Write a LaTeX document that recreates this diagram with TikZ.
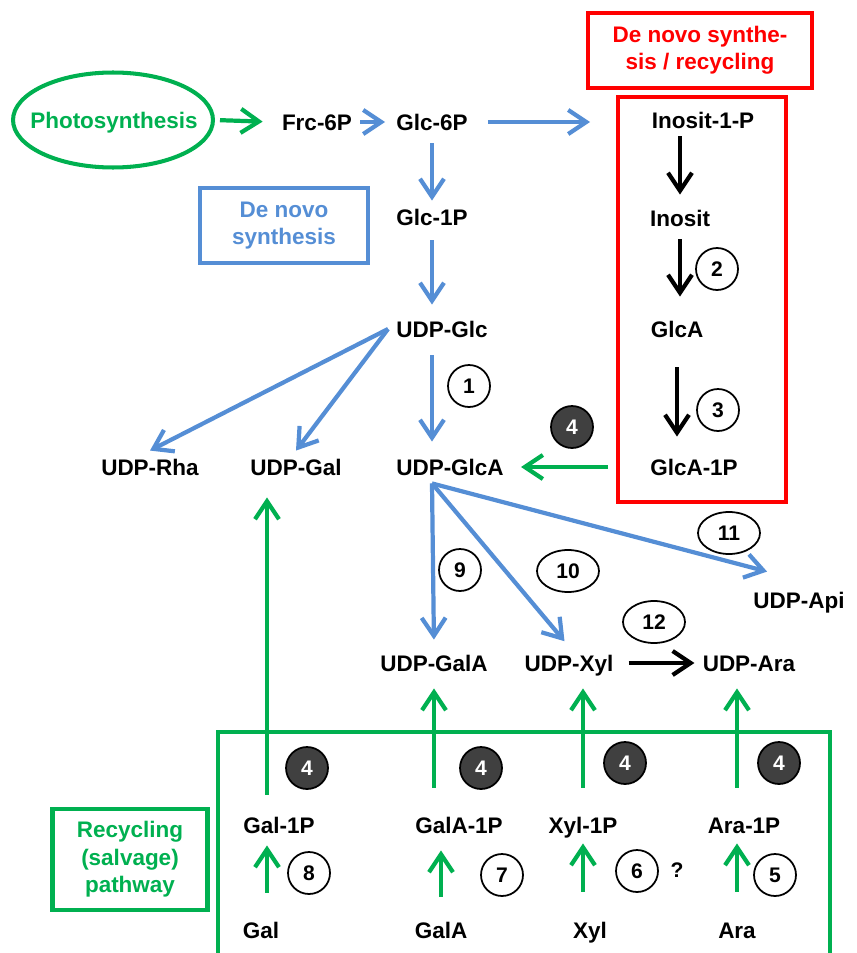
\documentclass[tikz,border=0pt]{standalone}
\usepackage{fontspec}
\setmainfont{Liberation Sans}
\usetikzlibrary{arrows.meta, positioning, shapes.geometric}
\definecolor{pblue}{RGB}{85,142,213}
\definecolor{pgreen}{RGB}{0,176,80}
\definecolor{pred}{RGB}{255,0,0}
\definecolor{pdark}{RGB}{64,64,64}
\newcommand\metfont{\bfseries\fontsize{12.8}{15.6}\selectfont}
\newcommand\enzfont{\bfseries\fontsize{12}{14}\selectfont}

\begin{document}
\begin{tikzpicture}[
  x=0.02cm, y=-0.02cm,
  met/.style  = {font=\metfont, inner sep=0.16cm,
                 text height=9.2pt, text depth=0pt},
  lbl/.style  = {rectangle, draw=#1, text=#1, line width=2.3pt,
                 align=center, font=\metfont},
  enz/.style  = {circle, draw, line width=1pt, minimum size=0.84cm,
                 inner sep=0pt, font=\enzfont},
  enzo/.style = {ellipse, draw, line width=1pt, minimum width=1.24cm,
                 minimum height=0.84cm, inner sep=0pt, font=\enzfont},
  kin/.style  = {enz, draw=black, fill=pdark, text=white},
  arr/.style  = {-{Straight Barb[length=0.36cm, width=0.48cm]},
                 line width=2.4pt, #1},
]
\useasboundingbox (0,0) rectangle (856,953);
% Photosynthesis and hexose phosphates
\node[met, text=pgreen] (photo) at (114,120) {Photosynthesis};
\node[ellipse, draw=pgreen, line width=2.3pt, minimum width=4cm,
      minimum height=1.9cm, inner sep=0pt] (photoring) at (113,120) {};
\node[met] (frc)   at (317,122) {Frc-6P};
\node[met] (glc6p) at (432,122) {Glc-6P};
\node[met] (glc1p) at (432,217) {Glc-1P};
\node[met] (udpglc)  at (442,329) {UDP-Glc};
\node[met] (udpglca) at (450,467) {UDP-GlcA};
\node[met] (udprha)  at (150,467) {UDP-Rha};
\node[met] (udpgal)  at (296,467) {UDP-Gal};
% Inositol route
\node[met] (inosit1p) at (703,120) {Inosit-1-P};
\node[met] (inosit)   at (680,218) {Inosit};
\node[met] (glca)     at (677,329) {GlcA};
\node[met] (glca1p)   at (694,467) {GlcA-1P};
% Products of UDP-GlcA
\node[met] (udpgala) at (434,663) {UDP-GalA};
\node[met] (udpxyl)  at (569,663) {UDP-Xyl};
\node[met] (udpara)  at (749,663) {UDP-Ara};
\node[met] (udpapi)  at (799,600) {UDP-Api};
% Salvage row
\node[met] (gal1p)  at (279,825) {Gal-1P};
\node[met] (gala1p) at (459,825) {GalA-1P};
\node[met] (xyl1p)  at (583,825) {Xyl-1P};
\node[met] (ara1p)  at (744,825) {Ara-1P};
\node[met] (gal)  at (261,930) {Gal};
\node[met] (gala) at (441,930) {GalA};
\node[met] (xyl)  at (590,930) {Xyl};
\node[met] (ara)  at (737,930) {Ara};
% Labels and frames
\node[lbl=pblue, minimum width=3.36cm, minimum height=1.5cm]
      (denovo) at (284,225.5) {De novo\\synthesis};
\node[lbl=pred, minimum width=4.48cm, minimum height=1.5cm]
      (redtitle) at (700,50.5) {De novo synthe-\\sis / recycling};
\node[draw=pred, line width=2.3pt, minimum width=3.36cm,
      minimum height=8.1cm] (ibox) at (702,299.5) {};
\node[lbl=pgreen, minimum width=3.1cm, minimum height=2.02cm]
      (salvage) at (130,859.5) {Recycling\\(salvage)\\pathway};
\coordinate (framesw) at (218,953);
\coordinate (framese) at (830,953);
\draw[pgreen, line width=2.3pt] (framesw) |- (830,732) -- (framese);
% Enzymes
\node[enz]  (e1)  at (469,386) {1};
\node[enz]  (e2)  at (717,269) {2};
\node[enz]  (e3)  at (718,410) {3};
\node[kin]  (e4a) at (572,427) {4};
\node[enz]  (e9)  at (460,570) {9};
\node[enzo] (e10) at (568,571) {10};
\node[enzo] (e11) at (729,533) {11};
\node[enzo] (e12) at (654,622) {12};
\node[kin]  (e4b) at (307,768) {4};
\node[kin]  (e4c) at (481,768) {4};
\node[kin]  (e4d) at (625,763) {4};
\node[kin]  (e4e) at (779,763) {4};
\node[enz]  (e8)  at (309,873) {8};
\node[enz]  (e7)  at (502,875) {7};
\node[enz]  (e6)  at (637,871) {6};
\node[enz]  (e5)  at (775,875) {5};
\node[font=\enzfont] (unsure) at (677,870) {?};
% Arrows: de novo part
\draw[arr=pgreen, shorten <=0.1cm, shorten >=0.22cm] (photoring.east) -- (frc.west);
\draw[arr=pblue, shorten >=0.06cm] (frc) -- (glc6p);
\draw[arr=pblue, shorten <=0.24cm, shorten >=0.52cm] (glc6p.east) -- (glc6p.east -| ibox.west);
\draw[arr=pblue, shorten <=0.1cm] (glc6p.south) -- (glc1p.north);
\draw[arr=pblue, shorten <=0.14cm, shorten >=0.16cm] (glc1p.south) -- (glc1p.south |- udpglc.north);
\draw[arr=pblue, shorten <=0.2cm, shorten >=0.18cm] (udpglc.south -| glc1p) -- (udpglca.north -| glc1p);
\draw[arr=pblue] (udpglc.west) -- (udprha.north);
\draw[arr=pblue] (udpglc.west) -- (udpgal.north);
% Arrows: inositol route
\draw[arr=black, shorten >=0.14cm] (inosit1p.south -| inosit) -- (inosit.north);
\draw[arr=black, shorten <=0.1cm, shorten >=0.32cm] (inosit.south) -- (inosit.south |- glca.north);
\draw[arr=black, shorten <=0.44cm, shorten >=0.28cm] (glca.south) -- (glca.south |- glca1p.north);
\draw[arr=pgreen, shorten <=0.16cm, shorten >=0.18cm] (ibox.west |- glca1p) -- (udpglca.east);
% Arrows: from UDP-GlcA
\coordinate (fan) at (udpglca.south -| glc1p);
\draw[arr=pblue, shorten >=0.14cm] (fan) -- (udpgala.north);
\draw[arr=pblue, shorten >=0.14cm] (fan) -- (udpxyl.north);
\draw[arr=pblue] (fan) -- ([shift={(22,-12)}]udpapi.north west);
\draw[arr=black, shorten <=0.14cm] (udpxyl) -- (udpara);
% Arrows: salvage
\draw[arr=pgreen, shorten <=0.28cm, shorten >=0.28cm] ([xshift=0.12cm]gal.north |- gal1p.north) -- ([xshift=0.12cm]gal.north |- udpgal.south);
\draw[arr=pgreen, shorten <=0.42cm, shorten >=0.08cm] ([xshift=0.12cm]gal.north) -- ([xshift=0.12cm]gal.north |- gal1p.south);
\draw[arr=pgreen, shorten <=0.42cm, shorten >=0.18cm] (gala1p.north -| udpgala) -- (udpgala.south);
\draw[arr=pgreen, shorten <=0.34cm, shorten >=0.18cm] (gala.north) -- (gala.north |- gala1p.south);
\draw[arr=pgreen, shorten <=0.42cm, shorten >=0.18cm] (xyl1p.north) -- (xyl1p.north |- udpxyl.south);
\draw[arr=pgreen, shorten <=0.44cm, shorten >=0.04cm] (xyl.north -| xyl1p) -- (xyl1p.south);
\draw[arr=pgreen, shorten <=0.42cm, shorten >=0.18cm] (ara1p.north -| ara) -- (udpara.south -| ara);
\draw[arr=pgreen, shorten <=0.44cm, shorten >=0.04cm] (ara.north) -- (ara.north |- ara1p.south);
\end{tikzpicture}
\end{document}
